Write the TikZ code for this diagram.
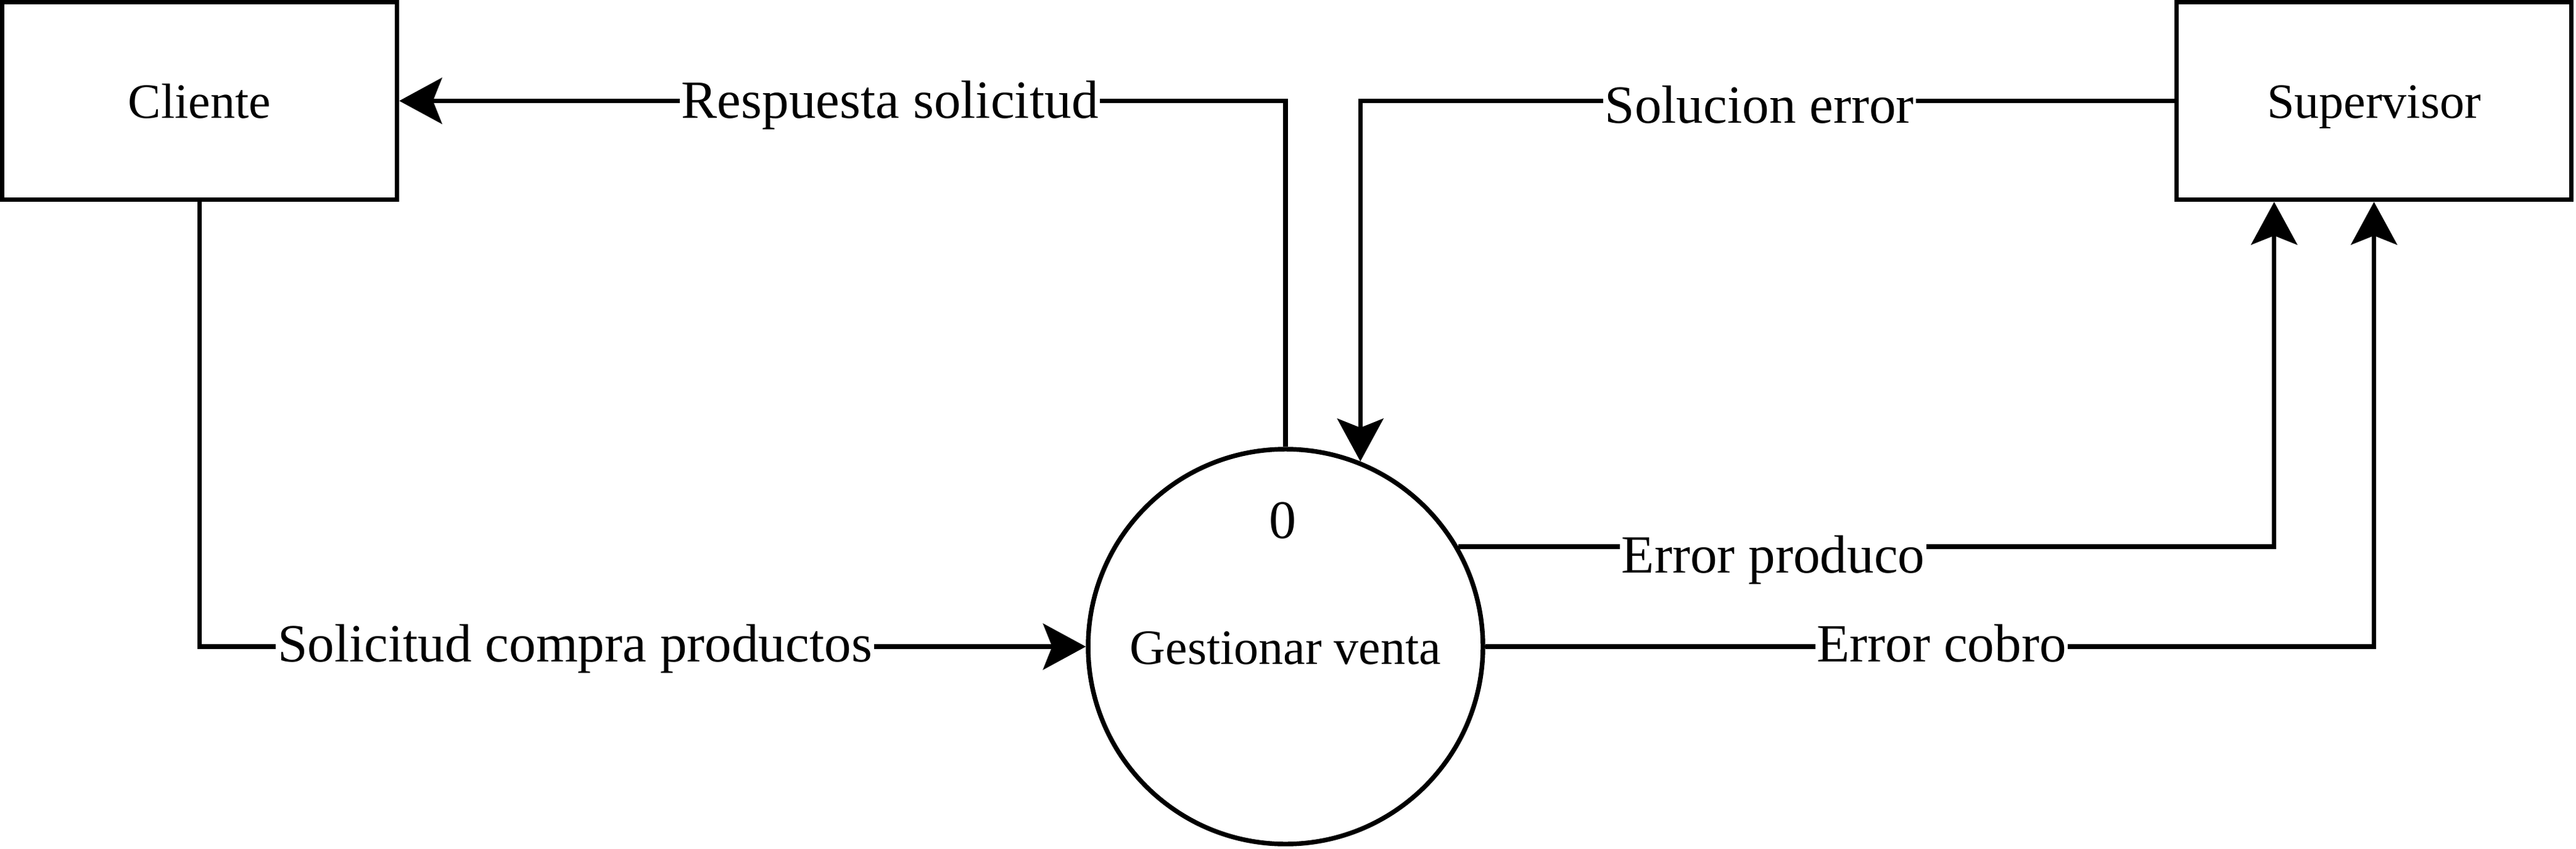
\documentclass[tikz,border=0pt]{standalone}
\usepackage{fontspec}
\setmainfont{Liberation Serif}
\usetikzlibrary{arrows.meta,calc}
\begin{document}
\begin{tikzpicture}[x=1pt,y=-1pt,
  lw/.style={line width=2.8pt},
  entity/.style={draw,lw,rectangle,minimum width=240pt,minimum height=120pt,inner sep=0pt,
    font=\fontsize{30}{36}\selectfont,text height=21pt,text depth=0pt},
  process/.style={draw,lw,circle,minimum size=240pt,inner sep=0pt,
    font=\fontsize{30}{36}\selectfont,text height=21pt,text depth=0pt},
  flow/.style={lw,-{Stealth[length=26pt,width=28pt,inset=5.5pt]}},
  lbl/.style={fill=white,inner sep=1pt,anchor=base,font=\fontsize{32.7}{39}\selectfont},
]
\useasboundingbox (0,0) rectangle (1566,516);

\node[entity] (cli) at (121.3,61.3) {Cliente};
\node[entity] (sup) at (1443.2,61.3) {Supervisor};
\node[process] (circ) at (781.5,393) {Gestionar venta};
\node[font=\fontsize{33}{40}\selectfont,anchor=base,inner sep=0pt] (zero) at (779.7,327) {0};

\coordinate (supq) at ($(sup.south west)!0.25!(sup.south east)$);

\draw[flow] (circ.north) |- (cli.east);
\draw[flow] (sup.west) -| (circ.68.7);
\draw[flow] (circ.30.3) -| (supq);
\draw[flow] (circ.east) -| (sup.south);
\draw[flow] (cli.south) |- (circ.west);

\node[lbl] (l1) at (541,72) {Respuesta solicitud};
\node[lbl] (l2) at (1069.6,75) {Solucion error};
\node[lbl] (l3) at (1078,348) {Error produco};
\node[lbl] (l4) at (1180.3,402) {Error cobro};
\node[lbl] (l5) at (349.5,402) {Solicitud compra productos};
\end{tikzpicture}
\end{document}
